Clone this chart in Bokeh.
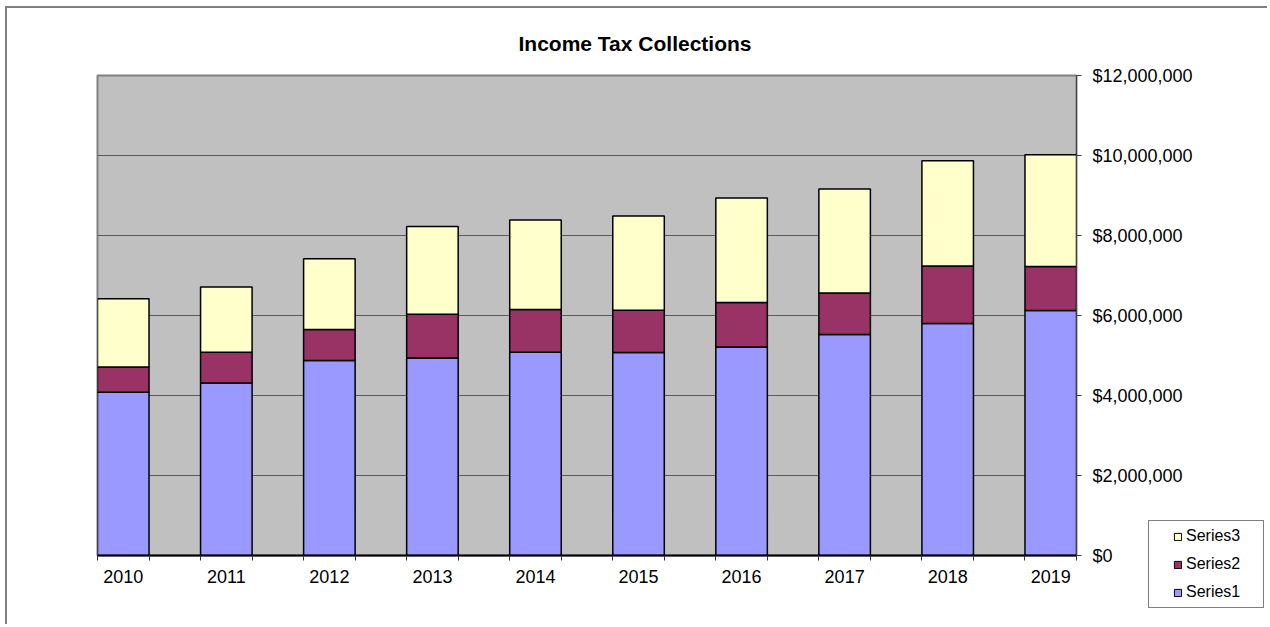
from bokeh.plotting import figure
from bokeh.models import (ColumnDataSource, Range1d, FixedTicker, NumeralTickFormatter,
                          Legend, LegendItem)
from bokeh.embed import file_html
from bokeh.resources import INLINE

years = [2010, 2011, 2012, 2013, 2014, 2015, 2016, 2017, 2018, 2019]
year_labels = ["2010", "2011", "2012", "2013", "2014", "2015", "2016", "2017", "2018", "2019"]
series1 = [4080000, 4310000, 4875000, 4940000, 5080000, 5075000, 5210000, 5525000, 5800000, 6125000]
series2 = [630000, 770000, 775000, 1090000, 1070000, 1055000, 1115000, 1035000, 1440000, 1100000]
series3 = [1710000, 1630000, 1770000, 2195000, 2240000, 2360000, 2615000, 2600000, 2630000, 2795000]
series_names = ["Series1", "Series2", "Series3"]
series_colors = ["#9999FF", "#993366", "#FFFFCC"]
y_ticks = [0, 2000000, 4000000, 6000000, 8000000, 10000000, 12000000]

FONT = "Liberation Sans"

source = ColumnDataSource(dict(year=years, Series1=series1, Series2=series2, Series3=series3))

p = figure(width=1262, height=618,
           x_range=Range1d(years[0] - 0.25, years[-1] + 0.25),
           y_range=Range1d(y_ticks[0], y_ticks[-1]),
           y_axis_location="right",
           output_backend="svg", toolbar_location=None,
           min_border_left=90, min_border_right=193, min_border_top=67, min_border_bottom=71)

p.styles = {"margin-left": "5px", "margin-top": "6px",
            "border-left": "2px solid #808080", "border-top": "2px solid #808080"}

p.background_fill_color = "#C0C0C0"
p.border_fill_color = "white"
p.outline_line_color = "#808080"
p.outline_line_width = 2

renderers = p.vbar_stack(series_names, x="year", width=0.5, source=source,
                         fill_color=series_colors, line_color="black", line_width=1.5)

# title
p.title.text = "Income Tax Collections"
p.title.text_font = FONT
p.title.text_font_size = "21px"
p.title.text_font_style = "bold"
p.title.align = "left"
p.title.offset = 421
p.title.standoff = 42
p.title.text_color = "black"

# x axis
xa = p.xaxis[0]
xa.ticker = FixedTicker(ticks=years,
                        minor_ticks=[y - 0.25 for y in years] + [y + 0.25 for y in years])
xa.major_label_overrides = {y: l for y, l in zip(years, year_labels)}
xa.major_tick_line_color = None
xa.major_tick_out = 0
xa.major_tick_in = 0
xa.minor_tick_line_color = "#333333"
xa.minor_tick_out = 5
xa.minor_tick_in = 0
xa.axis_line_color = "black"
xa.axis_line_width = 2
xa.major_label_text_font = FONT
xa.major_label_text_font_size = "18px"
xa.major_label_text_color = "black"
xa.major_label_standoff = 9

# y axis (right)
ya = p.yaxis[0]
ya.ticker = FixedTicker(ticks=y_ticks)
ya.formatter = NumeralTickFormatter(format="$0,0")
ya.axis_line_color = "#404040"
ya.axis_line_width = 1
ya.major_tick_line_color = "#404040"
ya.major_tick_out = 5
ya.major_tick_in = 0
ya.minor_tick_line_color = None
ya.major_label_text_font = FONT
ya.major_label_text_font_size = "18px"
ya.major_label_text_color = "black"
ya.major_label_standoff = 11

p.xgrid.visible = False
p.ygrid.ticker = FixedTicker(ticks=y_ticks)
p.ygrid.grid_line_color = "#5a5a5a"
p.ygrid.grid_line_width = 1

# legend panel (separate small plot placed over the chart's right-bottom corner);
# its swatches come from the same stacked data, drawn outside its visible range
lp = figure(width=118, height=90, output_backend="svg", toolbar_location=None,
            x_range=Range1d(0, 1), y_range=Range1d(0, 1),
            x_axis_location=None, y_axis_location=None, min_border=0)
lp.styles = {"position": "absolute", "left": "1147px", "top": "519px"}
lp.grid.visible = False
lp.outline_line_color = None
lp.background_fill_color = "white"
lp.border_fill_color = "white"
swatches = lp.vbar_stack(series_names, x="year", width=0.5, source=source,
                         fill_color=series_colors, line_color="black", line_width=1)

legend = Legend(items=[LegendItem(label=n, renderers=[r]) for n, r in zip(series_names[::-1], swatches[::-1])],
                location="top_left")
legend.title = " "
legend.title_location = "left"
legend.title_text_font_size = "10px"
legend.title_standoff = 8
legend.border_line_color = "black"
legend.border_line_width = 1
legend.background_fill_color = "white"
legend.background_fill_alpha = 1
legend.padding = 5
legend.margin = 1
legend.spacing = 8
legend.label_height = 20
legend.label_width = 72
legend.glyph_width = 9
legend.glyph_height = 9
legend.label_standoff = 4
legend.label_text_font = FONT
legend.label_text_font_size = "16px"
legend.label_text_color = "black"
lp.add_layout(legend)

open("out.html", "w").write(file_html([p, lp], INLINE))
